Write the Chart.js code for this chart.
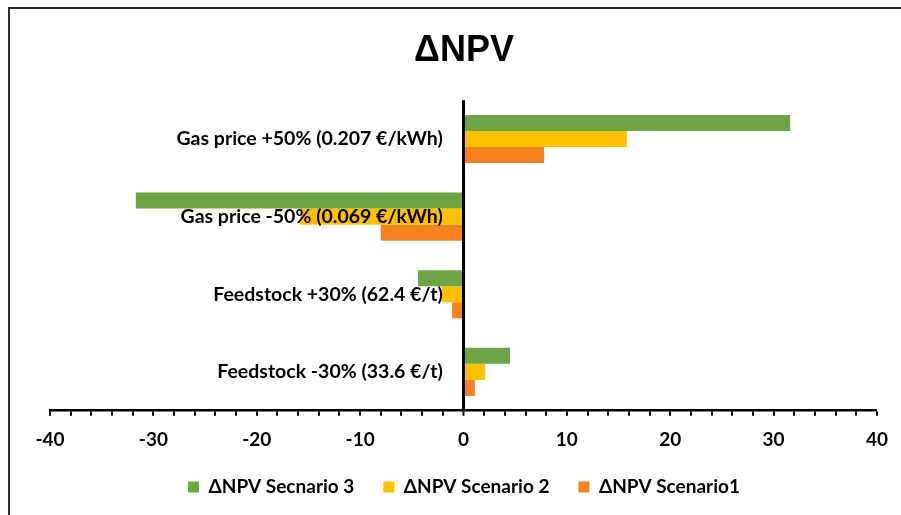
<!DOCTYPE html>
<html><head><meta charset="utf-8">
<script src="https://cdn.jsdelivr.net/npm/chart.js@4.4.1/dist/chart.umd.min.js"></script>
<style>
html,body{margin:0;padding:0;background:#fff;overflow:hidden;}
#frame{position:absolute;left:8px;top:7px;width:1000px;height:1000px;border:2px solid #2a2a2a;}
#wrap{position:absolute;left:0;top:0;width:901px;height:515px;}
</style></head><body>
<div id="frame"></div>
<div id="wrap"><canvas id="c" width="901" height="515"></canvas></div>
<script>
const categories = ['Gas price +50% (0.207 €/kWh)', 'Gas price -50% (0.069 €/kWh)', 'Feedstock +30% (62.4 €/t)', 'Feedstock -30% (33.6 €/t)'];
const seriesNames = ['ΔNPV Secnario 3', 'ΔNPV Scenario 2', 'ΔNPV Scenario1'];
const scenario3 = [31.6, -31.7, -4.4, 4.5];
const scenario2 = [15.8, -15.8, -2.1, 2.1];
const scenario1 = [7.8, -8.0, -1.1, 1.1];
const xTickLabels = [-40, -30, -20, -10, 0, 10, 20, 30, 40];
const colors = ['#6BA545', '#FFC000', '#F5801F'];

new Chart(document.getElementById('c'), {
  type: 'bar',
  data: {
    labels: categories,
    datasets: [
      {label: seriesNames[0], data: scenario3, backgroundColor: colors[0]},
      {label: seriesNames[1], data: scenario2, backgroundColor: colors[1]},
      {label: seriesNames[2], data: scenario1, backgroundColor: colors[2]}
    ]
  },
  options: {
    indexAxis: 'y',
    responsive: false,
    animation: false,
    devicePixelRatio: 1,
    layout: {padding: {left: 50, right: 23, top: 29, bottom: 8.5}},
    datasets: {bar: {categoryPercentage: 0.62, barPercentage: 1.0}},
    scales: {
      x: {
        type: 'linear', min: -40, max: 40,
        afterFit: (s) => { s.height -= 16; },
        border: {display: true, color: '#000', width: 2.5},
        grid: {
          display: true, drawOnChartArea: true, drawTicks: true, tickLength: 5, tickWidth: 2,
          tickColor: '#000',
          color: (ctx) => (ctx.tick && ctx.tick.value === 0) ? '#000' : 'rgba(0,0,0,0)',
          lineWidth: (ctx) => (ctx.tick && ctx.tick.value === 0) ? 3 : 0
        },
        ticks: {
          stepSize: 2, autoSkip: false, maxRotation: 0, padding: 13, color: '#000',
          font: {family: 'Lato', weight: 'bold', size: 19},
          callback: (v) => xTickLabels.includes(v) ? String(v) : ''
        }
      },
      y: {
        type: 'category',
        position: {x: -2},
        border: {display: false},
        grid: {display: false, drawOnChartArea: false, drawTicks: false},
        ticks: {z: 1, color: '#000', font: {family: 'Lato', weight: 'bold', size: 19.5}}
      }
    },
    plugins: {
      title: {
        display: true, text: 'ΔNPV', color: '#000',
        font: {family: 'Liberation Sans', weight: 'bold', size: 36},
        padding: {top: 0, bottom: 28}
      },
      legend: {
        position: 'bottom',
        labels: {boxWidth: 11, boxHeight: 11, padding: 29, color: '#000', font: {family: 'Lato', weight: 'bold', size: 19}}
      },
      tooltip: {enabled: false}
    }
  }
});
</script>
</body></html>
